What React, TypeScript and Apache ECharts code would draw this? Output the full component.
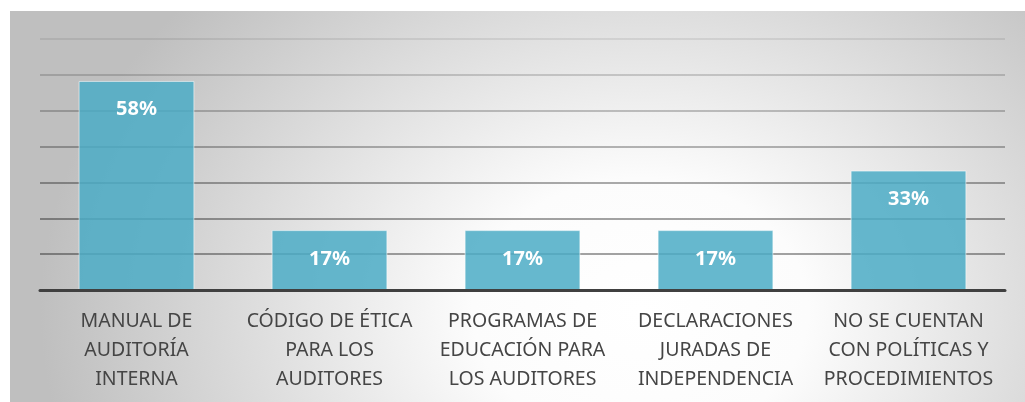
import React, { useEffect, useRef } from "react";
import * as echarts from "echarts";

const categories = [
  "MANUAL DE\nAUDITORÍA\nINTERNA",
  "CÓDIGO DE ÉTICA\nPARA LOS\nAUDITORES",
  "PROGRAMAS DE\nEDUCACIÓN PARA\nLOS AUDITORES",
  "DECLARACIONES\nJURADAS DE\nINDEPENDENCIA",
  "NO SE CUENTAN\nCON POLÍTICAS Y\nPROCEDIMIENTOS",
];
const values = [58.3, 16.7, 16.7, 16.7, 33.3];
const yMax = 70;
const yInterval = 10;

export default function App() {
  const ref = useRef<HTMLDivElement>(null);
  useEffect(() => {
    if (!ref.current) return;
    const chart = echarts.init(ref.current, undefined, { renderer: "svg" });
    const W = 1025;
    const H = 402;
    const bgX = 10;
    const bgY = 11;
    const bgW = W - bgX;
    const bgH = H - bgY;
    const a = 600; // horizontal semi-axis
    const b = 470; // vertical semi-axis
    const sx = a / b;
    const cx = 640;
    const cy = 310;
    chart.setOption({
      animation: false,
      graphic: [
        {
          type: "rect",
          z: -10,
          silent: true,
          x: bgX,
          y: bgY,
          scaleX: sx,
          shape: { x: 0, y: 0, width: bgW / sx, height: bgH },
          style: {
            fill: {
              type: "radial",
              global: true,
              x: (cx - bgX) / sx,
              y: cy - bgY,
              r: b,
              colorStops: [
                { offset: 0, color: "#ffffff" },
                { offset: 0.28, color: "#fcfcfc" },
                { offset: 1, color: "#bfbfbf" },
              ],
            },
          },
        },
      ],
      grid: { left: 40, right: 20, top: 39, bottom: 112, containLabel: false },
      xAxis: {
        type: "category",
        data: categories,
        axisLine: { show: true, lineStyle: { color: "#404040", width: 3 } },
        axisTick: { show: false },
        axisLabel: {
          interval: 0,
          color: "#454545",
          fontFamily: "Noto Sans",
          fontSize: 19.5,
          lineHeight: 29,
          margin: 15,
          align: "center",
        },
        z: 5,
      },
      yAxis: {
        type: "value",
        min: 0,
        max: yMax,
        interval: yInterval,
        axisLabel: { show: false },
        axisLine: { show: false },
        axisTick: { show: false },
        splitLine: {
          show: true,
          lineStyle: {
            width: 1.8,
            color: [
              "rgba(0,0,0,0.34)",
              "rgba(0,0,0,0.36)",
              "rgba(0,0,0,0.36)",
              "rgba(0,0,0,0.33)",
              "rgba(0,0,0,0.28)",
              "rgba(0,0,0,0.22)",
              "rgba(0,0,0,0.16)",
              "rgba(0,0,0,0.08)",
            ],
          },
        },
      },
      series: [
        {
          type: "bar",
          data: values,
          barWidth: "60%",
          itemStyle: {
            color: "rgba(75,172,198,0.85)",
            borderColor: "rgba(255,255,255,0.55)",
            borderWidth: 1,
          },
          label: {
            show: true,
            position: "insideTop",
            distance: 17,
            color: "#ffffff",
            fontFamily: "Noto Sans",
            fontWeight: "bold",
            fontSize: 20,
            formatter: (p: any) => Math.round(p.value) + "%",
          },
        },
      ],
    });
    return () => chart.dispose();
  }, []);
  return (
    <div
      ref={ref}
      style={{ position: "fixed", left: 0, top: 0, width: 1025, height: 402 }}
    />
  );
}
